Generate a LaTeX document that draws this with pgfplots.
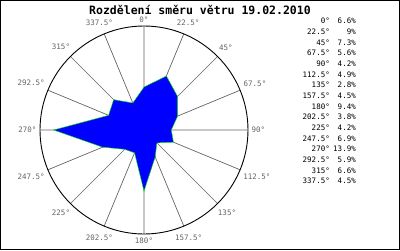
\documentclass[border=0pt]{standalone}
\usepackage{pgfplots}
\pgfplotsset{compat=1.18}
\usepgfplotslibrary{polar}
\usepackage{fontspec}
\setmainfont{DejaVu Sans Mono}
\definecolor{gridgray}{RGB}{100,100,100}
\definecolor{rosegreen}{RGB}{0,230,0}
\begin{document}
\begin{tikzpicture}[x=1pt,y=1pt]
\useasboundingbox (0,0) rectangle (400,250);
\draw[black, line width=1pt] (0.5,0.5) rectangle (399.5,249.5);
\node[font=\bfseries\fontsize{11.5}{12}\selectfont] at (200,240.5) {Rozdělení směru větru 19.02.2010};
\begin{polaraxis}[
  at={(144pt,120pt)}, anchor=center,
  scale only axis, width=208pt, height=208pt,
  ymin=0, ymax=16, ytick=\empty,
  xtick={0,22.5,...,337.5},
  xticklabels={90°,67.5°,45°,22.5°,0°,337.5°,315°,292.5°,270°,247.5°,225°,202.5°,180°,157.5°,135°,112.5°},
  xmajorgrids=true,
  major grid style={gridgray, line width=0.7pt},
  x axis line style={black, line width=0.9pt},
  y axis line style={draw=none},
  xtick style={draw=none},
  tick label style={font=\fontsize{7.5}{8}\selectfont, text=gridgray},
]
\addplot[draw=rosegreen, fill=blue, line width=0.45pt] coordinates {
 (90,6.6) (67.5,9) (45,7.3) (22.5,5.6) (0,4.2) (-22.5,4.9) (-45,2.8) (-67.5,4.5)
 (-90,9.4) (-112.5,3.8) (-135,4.2) (-157.5,6.9) (-180,13.9) (-202.5,5.9) (-225,6.6) (-247.5,4.5) (-270,6.6)
};
\end{polaraxis}
\begin{scope}[font=\fontsize{7.5}{8}\selectfont]
\foreach \a/\p [count=\i from 0] in {0°/6.6\%, 22.5°/9\%, 45°/7.3\%, 67.5°/5.6\%, 90°/4.2\%, 112.5°/4.9\%, 135°/2.8\%, 157.5°/4.5\%, 180°/9.4\%, 202.5°/3.8\%, 225°/4.2\%, 247.5°/6.9\%, 270°/13.9\%, 292.5°/5.9\%, 315°/6.6\%, 337.5°/4.5\%}{
  \node[anchor=east, inner sep=0pt] at (330,229-10.67*\i) {\a};
  \node[anchor=east, inner sep=0pt] at (356,229-10.67*\i) {\p};
}
\end{scope}
\end{tikzpicture}
\end{document}
